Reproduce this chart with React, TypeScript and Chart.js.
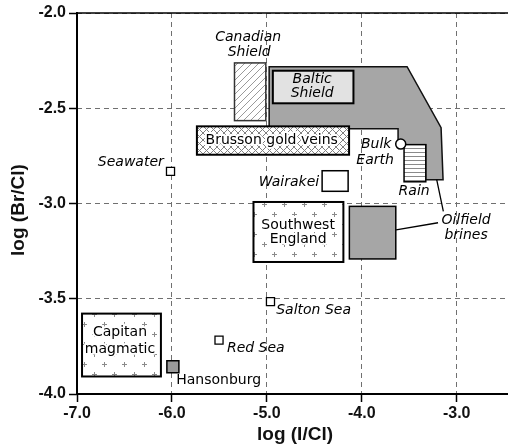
import React, { useEffect, useRef } from 'react';
import { Chart, registerables } from 'chart.js';

Chart.register(...registerables);

// ---------- data (log units) ----------
const xTickValues = [-7, -6, -5, -4, -3];
const yTickValues = [-4, -3.5, -3, -2.5, -2];

// single samples (open squares)
const sampleNames = ['Seawater', 'Salton Sea', 'Red Sea'];
const sampleX = [-6.015, -4.962, -5.504];
const sampleY = [-2.831, -3.515, -3.717];

const hansonburgX = [-5.99];
const hansonburgY = [-3.857];

const bulkEarthX = [-3.59];
const bulkEarthY = [-2.688];

// rectangular fields
const fieldNames = ['Canadian Shield', 'Baltic Shield', 'Brusson gold veins', 'Wairakei', 'Southwest England', 'Oilfield brines', 'Capitan magmatic', 'Rain'];
const fieldXMin = [-5.341, -4.937, -5.737, -4.418, -5.141, -4.131, -6.947, -3.555];
const fieldXMax = [-5.011, -4.088, -4.134, -4.144, -4.194, -3.642, -6.116, -3.326];
const fieldYMin = [-2.565, -2.474, -2.744, -2.936, -3.307, -3.291, -3.908, -2.886];
const fieldYMax = [-2.262, -2.303, -2.595, -2.828, -2.992, -3.015, -3.578, -2.691];

// oilfield brines envelope (polygon)
const brineEnvelopeX = [-4.976, -3.523, -3.165, -3.144, -3.328, -3.328, -3.618, -3.618, -4.976];
const brineEnvelopeY = [-2.282, -2.282, -2.602, -2.875, -2.875, -2.691, -2.691, -2.607, -2.607];

// leader lines for "Oilfield brines"
const leaderX1 = [-3.211, -3.639];
const leaderY1 = [-2.875, -3.138];
const leaderX2 = [-3.141, -3.197];
const leaderY2 = [-3.041, -3.101];

// text labels
const labelTexts = ['Canadian', 'Shield', 'Baltic', 'Shield', 'Brusson gold veins', 'Bulk', 'Earth', 'Rain', 'Seawater', 'Wairakei', 'Southwest', 'England', 'Oilfield', 'brines', 'Capitan', 'magmatic', 'Hansonburg', 'Red Sea', 'Salton Sea'];
const labelX = [-5.197, -5.186, -4.523, -4.523, -4.949, -3.849, -3.86, -3.449, -6.086, -4.449, -4.671, -4.671, -2.902, -2.902, -6.547, -6.547, -5.955, -5.421, -4.902];
const labelY = [-2.130, -2.208, -2.348, -2.424, -2.670, -2.691, -2.775, -2.938, -2.786, -2.888, -3.117, -3.187, -3.090, -3.169, -3.678, -3.767, -3.930, -3.762, -3.563];

// ---------- styles ----------
const labelAlign: CanvasTextAlign[] = ['center', 'center', 'center', 'center', 'center', 'center', 'center', 'center', 'right', 'right', 'center', 'center', 'center', 'center', 'center', 'center', 'left', 'left', 'left'];
const labelItalic = [true, true, true, true, false, true, true, true, true, true, false, false, true, true, false, false, false, true, true];
const labelHalo = [false, false, false, false, true, false, false, false, false, false, true, true, false, false, true, true, false, false, false];

type FieldStyle = { fill: string; pattern?: 'diag' | 'cross' | 'plus' | 'hlines'; stroke: string; lw: number };
const fieldStyles: FieldStyle[] = [
  { fill: '#ffffff', pattern: 'diag', stroke: '#333', lw: 1.5 },
  { fill: '#e2e2e2', stroke: '#000', lw: 2 },
  { fill: '#ffffff', pattern: 'cross', stroke: '#000', lw: 2 },
  { fill: '#ffffff', stroke: '#000', lw: 1.5 },
  { fill: '#ffffff', pattern: 'plus', stroke: '#000', lw: 2 },
  { fill: '#a6a6a6', stroke: '#000', lw: 1.5 },
  { fill: '#ffffff', pattern: 'plus', stroke: '#000', lw: 2 },
  { fill: '#ffffff', pattern: 'hlines', stroke: '#000', lw: 1.5 },
];

function makePattern(ctx: CanvasRenderingContext2D, kind: string): CanvasPattern | null {
  const c = document.createElement('canvas');
  const g = c.getContext('2d')!;
  if (kind === 'diag') {
    c.width = 7; c.height = 7;
    g.strokeStyle = '#9a9a9a'; g.lineWidth = 1;
    g.beginPath();
    g.moveTo(0, 7); g.lineTo(7, 0);
    g.moveTo(-1, 1); g.lineTo(1, -1);
    g.moveTo(6, 8); g.lineTo(8, 6);
    g.stroke();
  } else if (kind === 'cross') {
    c.width = 7; c.height = 7;
    g.strokeStyle = '#808080'; g.lineWidth = 1;
    g.beginPath();
    g.moveTo(0, 0); g.lineTo(7, 7);
    g.moveTo(0, 7); g.lineTo(7, 0);
    g.stroke();
  } else if (kind === 'plus') {
    c.width = 20; c.height = 20;
    g.strokeStyle = '#8a8a8a'; g.lineWidth = 1;
    g.beginPath();
    const pts = [[4, 4], [14, 14]];
    for (const [px, py] of pts) {
      g.moveTo(px - 2, py + 0.5); g.lineTo(px + 3, py + 0.5);
      g.moveTo(px + 0.5, py - 2); g.lineTo(px + 0.5, py + 3);
    }
    g.stroke();
  } else if (kind === 'hlines') {
    c.width = 4; c.height = 4;
    g.strokeStyle = '#8a8a8a'; g.lineWidth = 1;
    g.beginPath();
    g.moveTo(0, 0.5); g.lineTo(4, 0.5);
    g.stroke();
  }
  return ctx.createPattern(c, 'repeat');
}

const fieldsPlugin = {
  id: 'fields',
  beforeDatasetsDraw(chart: any) {
    const { ctx, scales } = chart;
    const xs = scales.x, ys = scales.y;
    const X = (v: number) => xs.getPixelForValue(v);
    const Y = (v: number) => ys.getPixelForValue(v);
    ctx.save();

    const drawField = (i: number) => {
      const st = fieldStyles[i];
      const x1 = X(fieldXMin[i]), x2 = X(fieldXMax[i]);
      const y1 = Y(fieldYMax[i]), y2 = Y(fieldYMin[i]);
      ctx.fillStyle = st.fill;
      ctx.fillRect(x1, y1, x2 - x1, y2 - y1);
      if (st.pattern) {
        const p = makePattern(ctx, st.pattern);
        if (p) { ctx.fillStyle = p; ctx.fillRect(x1, y1, x2 - x1, y2 - y1); }
      }
      ctx.strokeStyle = st.stroke;
      ctx.lineWidth = st.lw;
      ctx.strokeRect(x1, y1, x2 - x1, y2 - y1);
    };

    drawField(0);
    ctx.beginPath();
    brineEnvelopeX.forEach((vx, k) => {
      const px = X(vx), py = Y(brineEnvelopeY[k]);
      if (k === 0) ctx.moveTo(px, py); else ctx.lineTo(px, py);
    });
    ctx.closePath();
    ctx.fillStyle = '#a6a6a6';
    ctx.fill();
    ctx.strokeStyle = '#111';
    ctx.lineWidth = 1.5;
    ctx.stroke();
    for (let i = 1; i < fieldNames.length; i++) drawField(i);

    ctx.strokeStyle = '#000';
    ctx.lineWidth = 1.3;
    ctx.beginPath();
    for (let k = 0; k < leaderX1.length; k++) {
      ctx.moveTo(X(leaderX1[k]), Y(leaderY1[k]));
      ctx.lineTo(X(leaderX2[k]), Y(leaderY2[k]));
    }
    ctx.stroke();
    ctx.restore();
  },
  afterDatasetsDraw(chart: any) {
    const { ctx, scales } = chart;
    const xs = scales.x, ys = scales.y;
    ctx.save();
    ctx.textBaseline = 'middle';
    ctx.lineJoin = 'round';
    labelTexts.forEach((t, i) => {
      ctx.font = (labelItalic[i] ? 'italic ' : '') + '14px "DejaVu Sans"';
      ctx.textAlign = labelAlign[i];
      const px = xs.getPixelForValue(labelX[i]);
      const py = ys.getPixelForValue(labelY[i]);
      if (labelHalo[i]) {
        ctx.strokeStyle = '#fff';
        ctx.lineWidth = 4;
        ctx.strokeText(t, px, py);
      }
      ctx.fillStyle = '#000';
      ctx.fillText(t, px, py);
    });
    ctx.restore();
  },
  afterDraw(chart: any) {
    const { ctx, chartArea } = chart;
    ctx.save();
    ctx.strokeStyle = '#000';
    ctx.lineWidth = 1.5;
    ctx.beginPath();
    ctx.moveTo(chartArea.left, chartArea.top);
    ctx.lineTo(chartArea.right, chartArea.top);
    ctx.stroke();
    ctx.lineWidth = 2;
    ctx.beginPath();
    ctx.moveTo(chartArea.left, chartArea.top - 1);
    ctx.lineTo(chartArea.left, chartArea.bottom);
    ctx.lineTo(chartArea.right, chartArea.bottom);
    ctx.stroke();
    ctx.fillStyle = '#111';
    ctx.font = 'bold 19px "Liberation Sans"';
    ctx.textAlign = 'center';
    ctx.textBaseline = 'middle';
    ctx.fillText('log (I/Cl)', 295, 435);
    ctx.translate(19, 210);
    ctx.rotate(-Math.PI / 2);
    ctx.fillText('log (Br/Cl)', 0, 0);
    ctx.restore();
  },
};

export default function App() {
  const ref = useRef<HTMLCanvasElement>(null);
  useEffect(() => {
    document.body.style.margin = '0';
    const gridCommon = {
      color: '#707070',
      lineWidth: 1,
      borderDash: [5, 4],
      tickColor: '#000',
      tickWidth: 1.5,
      tickLength: 8,
      tickBorderDash: [],
    };
    const chart = new Chart(ref.current!, {
      type: 'scatter',
      data: {
        datasets: [
          {
            label: 'samples',
            data: sampleX.map((x, i) => ({ x, y: sampleY[i] })),
            pointStyle: 'rect',
            pointRadius: 5.7,
            backgroundColor: '#fff',
            borderColor: '#000',
            borderWidth: 1.3,
          },
          {
            label: 'Hansonburg',
            data: hansonburgX.map((x, i) => ({ x, y: hansonburgY[i] })),
            pointStyle: 'rect',
            pointRadius: 8.5,
            backgroundColor: '#9a9a9a',
            borderColor: '#000',
            borderWidth: 1.5,
          },
          {
            label: 'Bulk Earth',
            data: bulkEarthX.map((x, i) => ({ x, y: bulkEarthY[i] })),
            pointStyle: 'circle',
            pointRadius: 5,
            backgroundColor: '#fff',
            borderColor: '#000',
            borderWidth: 1.5,
          },
        ],
      },
      options: {
        responsive: false,
        animation: false,
        events: [],
        layout: { autoPadding: false, padding: { top: 13, right: 0, left: 0, bottom: 0 } },
        plugins: { legend: { display: false }, tooltip: { enabled: false } },
        scales: {
          x: {
            type: 'linear',
            min: -7,
            max: -2.46,
            afterBuildTicks: (s: any) => { s.ticks = xTickValues.map((v) => ({ value: v })); },
            afterFit: (s: any) => { s.height = 52; s.paddingRight = 0; s.paddingLeft = 0; },
            grid: gridCommon as any,
            border: { display: false, dash: [5, 4] } as any,
            ticks: {
              color: '#111',
              font: { family: '"Liberation Sans"', size: 16, weight: 'bold' },
              padding: 2,
              maxRotation: 0,
              callback: (v: any) => Number(v).toFixed(1),
            },
          },
          y: {
            type: 'linear',
            min: -4,
            max: -2,
            afterBuildTicks: (s: any) => { s.ticks = yTickValues.map((v) => ({ value: v })); },
            afterFit: (s: any) => { s.width = 77; },
            grid: gridCommon as any,
            border: { display: false, dash: [5, 4] } as any,
            ticks: {
              color: '#111',
              font: { family: '"Liberation Sans"', size: 16, weight: 'bold' },
              padding: 3,
              callback: (v: any) => Number(v).toFixed(1),
            },
          },
        },
      },
      plugins: [fieldsPlugin],
    });
    return () => chart.destroy();
  }, []);
  return (
    <div style={{ width: 508, height: 446 }}>
      <canvas ref={ref} width={508} height={446} style={{ display: 'block' }} />
    </div>
  );
}
